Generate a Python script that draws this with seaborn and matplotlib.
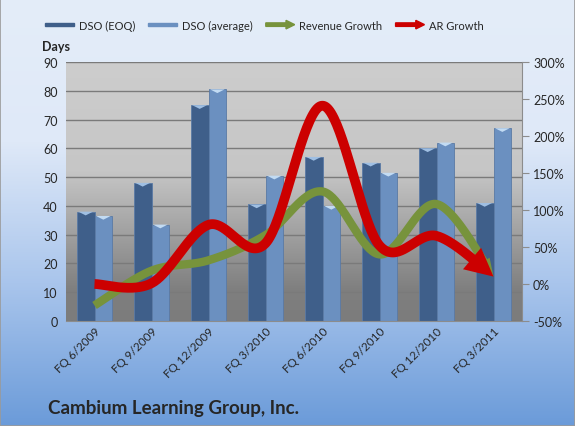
import numpy as np
import pandas as pd
import matplotlib
matplotlib.use("Agg")
import matplotlib.pyplot as plt
import seaborn as sns
from matplotlib.patches import FancyArrow, FancyArrowPatch, Rectangle, Polygon
from matplotlib.legend_handler import HandlerPatch
from matplotlib.colors import LinearSegmentedColormap
from matplotlib.ticker import FuncFormatter, FixedLocator

quarters = ["FQ 6/2009", "FQ 9/2009", "FQ 12/2009", "FQ 3/2010",
            "FQ 6/2010", "FQ 9/2010", "FQ 12/2010", "FQ 3/2011"]
dso_eoq = [38, 48, 75, 40.5, 57, 55, 60, 41]
dso_avg = [36.5, 33.5, 80.5, 50.5, 40, 51.5, 62, 67]
revenue_growth = [-29, 18, 32, 66, 125, 40, 108, 10]
ar_growth = [0, 1, 80, 55, 241, 52, 65, 10]

dark_blue = "#3f5f8a"
light_blue = "#6b90c0"
green = "#77933c"
red = "#cc0000"

sns.set_style("white")
plt.rcParams["font.family"] = ["Lato", "DejaVu Sans"]


def smooth(xs, ys, n=40):
    # catmull-rom, like excel's smoothed line
    x = np.r_[xs[0], xs, xs[-1]].astype(float)
    y = np.r_[ys[0], ys, ys[-1]].astype(float)
    t = np.linspace(0, 1, n, endpoint=False)
    h00 = 2 * t**3 - 3 * t**2 + 1
    h10 = t**3 - 2 * t**2 + t
    h01 = -2 * t**3 + 3 * t**2
    h11 = t**3 - t**2
    ox, oy = [], []
    for i in range(1, len(x) - 2):
        for p, o in ((x, ox), (y, oy)):
            m1 = (p[i + 1] - p[i - 1]) / 2
            m2 = (p[i + 2] - p[i]) / 2
            o.extend(h00 * p[i] + h10 * m1 + h01 * p[i + 1] + h11 * m2)
    ox.append(x[-2])
    oy.append(y[-2])
    return np.array(ox), np.array(oy)


fig = plt.figure(figsize=(5.75, 4.27), dpi=100)

# figure background gradient
bg = fig.add_axes([0, 0, 1, 1], zorder=-10)
bg_cmap = LinearSegmentedColormap.from_list("bg", ["#6b9bd9", "#a9c5ec", "#dfe9f8", "#e4edf9"])
bg.imshow(np.linspace(0, 1, 256).reshape(-1, 1), cmap=bg_cmap, aspect="auto",
          extent=[0, 1, 0, 1], origin="lower")
bg.axis("off")

pos = [66 / 575, 1 - 322 / 427, 456 / 575, 259 / 427]
pa = fig.add_axes(pos, zorder=-5)
pa_cmap = LinearSegmentedColormap.from_list(
    "pa", [(0, "#7c7c7c"), (0.12, "#7f7f7f"), (0.58, "#c6c6c6"), (1, "#cdcdcd")])
pa.imshow(np.linspace(0, 1, 256).reshape(-1, 1), cmap=pa_cmap, aspect="auto",
          extent=[0, 1, 0, 1], origin="lower")
pa.axis("off")

ax = fig.add_axes(pos)
ax.patch.set_visible(False)

df = pd.DataFrame({
    "quarter": quarters * 2,
    "value": dso_eoq + dso_avg,
    "series": ["DSO (EOQ)"] * len(quarters) + ["DSO (average)"] * len(quarters),
})
sns.barplot(data=df, x="quarter", y="value", hue="series",
            palette=[dark_blue, light_blue], width=0.62, saturation=1,
            edgecolor="#5a7aa5", linewidth=0.6, legend=False, ax=ax)

# little light caps on top of the bars
for i, bar in enumerate(list(ax.patches)):
    x0, w, top = bar.get_x(), bar.get_width(), bar.get_height()
    cap = "#9fbfe3" if i < len(quarters) else "#c2dbf3"
    ax.add_patch(Polygon([(x0 + w * 0.08, top), (x0 + w * 0.92, top),
                          (x0 + w / 2, top - 1.3)], closed=True,
                         facecolor=cap, edgecolor="none", zorder=3))

ax.set_xlim(-0.5, len(quarters) - 0.5)
ax.set_ylim(0, 90)
ax.set_yticks(range(0, 91, 10))
ax.yaxis.grid(True, color="#7a7a7a", lw=1)
ax.set_axisbelow(True)
ax.set_xlabel("")
ax.set_ylabel("")
for s in ["top", "right", "left"]:
    ax.spines[s].set_visible(False)
ax.spines["bottom"].set_color("#8c8c8c")
ax.tick_params(axis="y", length=0, labelsize=9, pad=6)
ax.tick_params(axis="x", which="major", length=0, labelsize=8.5, pad=3)
ax.xaxis.set_minor_locator(FixedLocator(np.arange(-0.5, len(quarters), 1)))
ax.tick_params(axis="x", which="minor", length=5, color="#8c8c8c", direction="out")
plt.setp(ax.get_xticklabels(), rotation=45, ha="right", rotation_mode="anchor")

ax2 = ax.twinx()
ax2.set_ylim(-50, 300)
ax2.set_yticks(range(-50, 301, 50))
ax2.yaxis.set_major_formatter(FuncFormatter(lambda v, _: f"{v:.0f}%"))
ax2.tick_params(axis="y", length=5, color="#8c8c8c", labelsize=9, pad=3)
for s in ["top", "left", "bottom"]:
    ax2.spines[s].set_visible(False)
ax2.spines["right"].set_color("#8c8c8c")

xs = np.arange(len(quarters))


def arrow_line(vals, color, lw, head_len, head_w, z):
    sx, sy = smooth(xs, vals)
    disp = ax2.transData.transform(np.c_[sx, sy])
    d = np.hypot(*(disp - disp[-1]).T)
    k = np.nonzero(d > head_len)[0][-1]
    ax2.plot(sx[:k + 2], sy[:k + 2], color=color, lw=lw, solid_capstyle="butt",
             solid_joinstyle="round", zorder=z)
    ax2.add_patch(FancyArrowPatch((sx[k], sy[k]), (sx[-1], sy[-1]),
                                  arrowstyle=f"-|>,head_length={head_len * 0.72 / 10:.2f},head_width={head_w * 0.72 / 10:.2f}",
                                  mutation_scale=10, color=color, lw=0,
                                  shrinkA=0, shrinkB=0, zorder=z))


arrow_line(revenue_growth, green, 6.0, 18, 7, 3)
arrow_line(ar_growth, red, 7.0, 28, 14, 4)


def make_arrow(legend, orig_handle, xdescent, ydescent, width, height, fontsize):
    return FancyArrow(-xdescent, height / 2 - ydescent, width, 0, width=height * 0.45,
                      head_width=height * 1.1, head_length=width * 0.3,
                      length_includes_head=True, color=orig_handle.get_facecolor())


def make_bar(legend, orig_handle, xdescent, ydescent, width, height, fontsize):
    return Rectangle((-xdescent, height * 0.3 - ydescent), width, height * 0.4,
                     facecolor=orig_handle.get_facecolor(), edgecolor="#5a7aa5", lw=0.6)


h_eoq = Rectangle((0, 0), 1, 1, color=dark_blue)
h_avg = Rectangle((0, 0), 1, 1, color=light_blue)
h_rev = FancyArrow(0, 0, 1, 0, color=green)
h_ar = FancyArrow(0, 0, 1, 0, color=red)
fig.legend([h_eoq, h_avg, h_rev, h_ar],
           ["DSO (EOQ)", "DSO (average)", "Revenue Growth", "AR Growth"],
           handler_map={h_eoq: HandlerPatch(patch_func=make_bar),
                        h_avg: HandlerPatch(patch_func=make_bar),
                        h_rev: HandlerPatch(patch_func=make_arrow),
                        h_ar: HandlerPatch(patch_func=make_arrow)},
           loc="center", bbox_to_anchor=(0.46, 1 - 26 / 427), ncol=4, frameon=False,
           fontsize=8, handlelength=2.6, handletextpad=0.4, columnspacing=1.2)

fig.text(42 / 575, 1 - 47 / 427, "Days", fontsize=9, weight="bold", va="center")
fig.text(48 / 575, 1 - 409 / 427, "Cambium Learning Group, Inc.", fontsize=13.5,
         weight="bold", va="center")
fig.patches.append(Rectangle((0, 0), 1, 1, transform=fig.transFigure, fill=False,
                             edgecolor="#9a9a9a", lw=1.2))

fig.savefig("out.png", dpi=100)
